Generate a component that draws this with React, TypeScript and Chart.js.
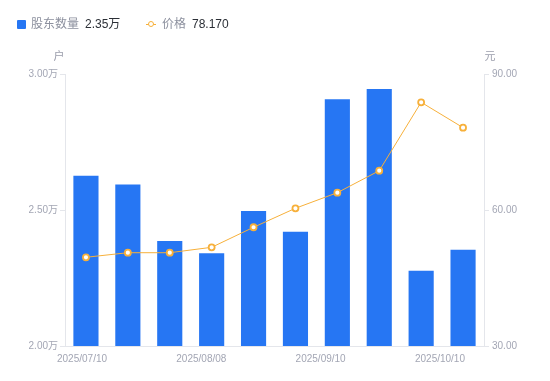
import React, { useEffect, useRef } from 'react';
import { Chart, registerables } from 'chart.js';

Chart.register(...registerables);

const categories = ['2025/07/10', '2025/07/18', '2025/07/31', '2025/08/08', '2025/08/20', '2025/08/29', '2025/09/10', '2025/09/19', '2025/09/30', '2025/10/10'];
const holders = [26260, 25940, 23860, 23410, 24960, 24200, 29070, 29450, 22770, 23540];
const prices = [49.57, 50.58, 50.58, 51.77, 56.19, 60.38, 63.82, 68.67, 83.76, 78.17];
const tickDates = ['2025/07/10', '2025/08/08', '2025/09/10', '2025/10/10'];
const holderTicks = [20000, 25000, 30000];
const priceTicks = [30, 60, 90];
const legendHolders = '2.35万';
const legendPrice = '78.170';

const FONT = '"Liberation Sans", "Noto Sans CJK SC", sans-serif';
const BAR = '#2676F3';
const LINE = '#F7B03A';
const TICK = '#A3A6B4';
const AXIS = '#E4E6EB';

const axisTitles = {
  id: 'axisTitles',
  afterDraw(chart: any) {
    const { ctx, chartArea, scales } = chart;
    ctx.save();
    ctx.font = '11px ' + FONT;
    ctx.fillStyle = '#9A9DAB';
    ctx.textAlign = 'center';
    ctx.textBaseline = 'middle';
    ctx.fillText('户', scales.y.right - 6, chartArea.top - 17);
    ctx.fillText('元', scales.y1.left + 6, chartArea.top - 17);
    ctx.restore();
  },
};

export default function App() {
  const ref = useRef<HTMLCanvasElement>(null);
  useEffect(() => {
    document.body.style.margin = '0';
    const chart = new Chart(ref.current!, {
      type: 'bar',
      data: {
        labels: categories,
        datasets: [
          {
            type: 'line',
            label: '价格',
            data: prices,
            yAxisID: 'y1',
            borderColor: LINE,
            borderWidth: 1,
            pointRadius: 3,
            pointBorderWidth: 1.8,
            pointBackgroundColor: '#fff',
            pointBorderColor: LINE,
            order: 0,
          } as any,
          {
            type: 'bar',
            label: '股东数量',
            data: holders,
            yAxisID: 'y',
            backgroundColor: BAR,
            categoryPercentage: 1,
            barPercentage: 0.6,
            order: 1,
          },
        ],
      },
      options: {
        animation: false,
        responsive: false,
        layout: { padding: { top: 74, left: 0, right: 0, bottom: 0 } },
        plugins: { legend: { display: false }, tooltip: { enabled: false } },
        font: { family: FONT },
        scales: {
          x: { type: 'category', display: false, offset: true },
          xd: {
            type: 'linear',
            position: 'bottom',
            offset: false,
            min: -0.1425,
            max: 3.369,
            afterBuildTicks: (s: any) => { s.ticks = tickDates.map((_, i) => ({ value: i })); },
            afterFit: (s: any) => { s.height = 35; },
            grid: { display: false, drawTicks: false, offset: false },
            border: { display: true, color: AXIS, width: 1 },
            ticks: {
              autoSkip: false,
              maxRotation: 0,
              padding: 7,
              color: TICK,
              font: { size: 10, family: FONT },
              callback: (v: any) => tickDates[Math.round(v)] ?? '',
            },
          },
          y: {
            type: 'linear',
            position: 'left',
            min: 20000,
            max: 30000,
            afterBuildTicks: (s: any) => { s.ticks = holderTicks.map((v) => ({ value: v })); },
            afterFit: (s: any) => { s.width = 65; },
            grid: { drawOnChartArea: false, drawTicks: true, tickLength: 5, color: AXIS },
            border: { display: true, color: AXIS },
            ticks: {
              padding: 2,
              color: TICK,
              font: { size: 10, family: FONT },
              callback: (v: any) => (Number(v) / 10000).toFixed(2) + '万',
            },
          },
          y1: {
            type: 'linear',
            position: 'right',
            min: 30,
            max: 90,
            afterBuildTicks: (s: any) => { s.ticks = priceTicks.map((v) => ({ value: v })); },
            afterFit: (s: any) => { s.width = 66; },
            grid: { drawOnChartArea: false, drawTicks: true, tickLength: 5, color: AXIS },
            border: { display: true, color: AXIS },
            ticks: {
              padding: 3,
              color: TICK,
              font: { size: 10, family: FONT },
              callback: (v: any) => Number(v).toFixed(2),
            },
          },
        },
      } as any,
      plugins: [axisTitles],
    });
    return () => chart.destroy();
  }, []);

  const label: React.CSSProperties = { position: 'absolute', top: 16, fontSize: 12, lineHeight: '17px', fontFamily: FONT, whiteSpace: 'nowrap' };
  return (
    <div style={{ position: 'absolute', left: 0, top: 0, width: 550, height: 381, background: '#fff' }}>
      <canvas ref={ref} width={550} height={381} style={{ position: 'absolute', left: 0, top: 0, width: 550, height: 381 }} />
      <div style={{ position: 'absolute', left: 17, top: 20, width: 9, height: 9, background: BAR, borderRadius: 1 }} />
      <div style={{ ...label, left: 31, color: '#8C909E' }}>股东数量</div>
      <div style={{ ...label, left: 85, color: '#2B2F36' }}>{legendHolders}</div>
      <div style={{ position: 'absolute', left: 146, top: 24, width: 10, height: 1, background: LINE }} />
      <div style={{ position: 'absolute', left: 148, top: 21, width: 4, height: 4, borderRadius: '50%', border: '1.5px solid ' + LINE, background: '#fff' }} />
      <div style={{ ...label, left: 162, color: '#8C909E' }}>价格</div>
      <div style={{ ...label, left: 192, color: '#2B2F36' }}>{legendPrice}</div>
    </div>
  );
}
